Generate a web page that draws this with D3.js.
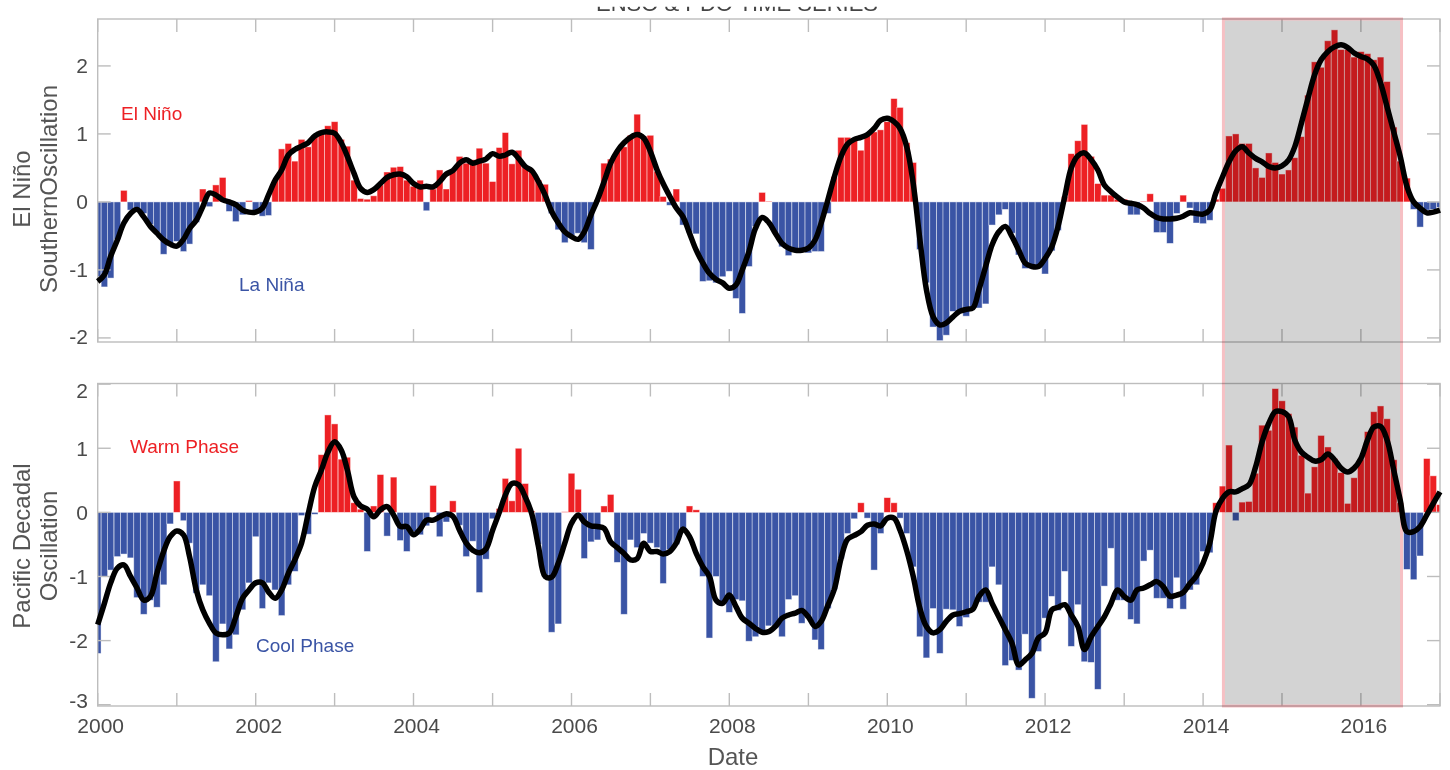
<!DOCTYPE html>
<html><head><meta charset="utf-8">
<script src="https://cdn.jsdelivr.net/npm/d3@7"></script>
<style>
html,body{margin:0;padding:0;background:#fff;}
svg{display:block;font-family:"Liberation Sans", Arial, Helvetica, sans-serif;}
</style></head><body>
<svg id="chart" width="1450" height="770"></svg>
<script>
// ---------------- data ----------------
const firstMonth = "2000-01-01";           // month of the first value; one value per month
const xDomain = ["2000-01-01", "2017-01-01"];
const highlightPeriod = ["2014-04-05", "2016-07-07"];
const titleText = "ENSO & PDO TIME SERIES";

const ensoValues = [
 -1.10,-1.25,-1.12,-0.55,0.17,-0.12,-0.14,-0.17,-0.33,-0.45,
 -0.77,-0.62,-0.58,-0.73,-0.62,-0.30,0.19,-0.07,0.25,0.36,
 -0.14,-0.29,-0.19,0.02,-0.17,-0.21,-0.20,0.32,0.78,0.86,
 0.60,0.92,0.81,0.98,1.05,1.12,1.18,0.92,0.82,0.32,
 0.05,0.04,0.09,0.25,0.44,0.51,0.52,0.32,0.23,0.32,
 -0.13,0.19,0.47,0.19,0.47,0.67,0.57,0.62,0.79,0.57,
 0.30,0.80,1.02,0.56,0.76,0.52,0.47,0.32,0.26,-0.17,
 -0.41,-0.60,-0.49,-0.46,-0.60,-0.70,0.03,0.57,0.63,0.75,
 0.81,0.98,1.29,0.97,0.98,0.45,0.08,-0.05,0.19,-0.34,
 -0.45,-0.47,-1.17,-1.16,-1.19,-1.10,-1.02,-1.42,-1.64,-0.95,
 -0.36,0.14,0.01,-0.46,-0.66,-0.79,-0.70,-0.71,-0.75,-0.73,
 -0.73,-0.17,0.37,0.95,0.95,0.94,0.76,0.99,1.03,1.06,
 1.18,1.52,1.39,0.87,0.58,-0.70,-1.19,-1.84,-2.04,-1.96,
 -1.61,-1.63,-1.68,-1.56,-1.56,-1.50,-0.34,-0.19,-0.11,-0.46,
 -0.78,-0.98,-0.98,-0.95,-1.06,-0.72,-0.42,0.08,0.71,0.90,
 1.14,0.67,0.27,0.10,0.10,0.04,0.04,-0.19,-0.19,0.01,
 0.12,-0.45,-0.45,-0.61,-0.17,0.10,-0.09,-0.31,-0.32,-0.27,
 0.04,0.20,0.97,1.00,0.86,0.86,0.50,0.36,0.72,0.58,
 0.41,0.47,0.65,0.96,1.57,2.06,1.98,2.37,2.53,2.24,
 2.24,2.13,2.21,2.18,2.09,2.13,1.77,1.10,0.60,0.35,
 -0.11,-0.37,-0.12,-0.11,-0.08
];
const ensoSmooth = [
 -1.17,-1.07,-0.80,-0.56,-0.31,-0.17,-0.11,-0.22,-0.36,-0.46,
 -0.56,-0.62,-0.65,-0.55,-0.39,-0.27,-0.07,0.13,0.10,0.03,
 0.00,-0.04,-0.12,-0.15,-0.15,-0.09,0.10,0.32,0.47,0.69,
 0.77,0.82,0.87,0.97,1.02,1.03,1.01,0.87,0.67,0.42,
 0.20,0.14,0.18,0.27,0.36,0.40,0.41,0.37,0.27,0.22,
 0.23,0.22,0.30,0.41,0.46,0.57,0.62,0.57,0.60,0.63,
 0.71,0.67,0.69,0.73,0.64,0.52,0.46,0.30,0.10,-0.14,
 -0.31,-0.44,-0.51,-0.55,-0.44,-0.19,0.03,0.30,0.57,0.75,
 0.87,0.95,0.99,0.94,0.74,0.47,0.27,0.08,-0.09,-0.22,
 -0.46,-0.71,-0.90,-1.05,-1.14,-1.19,-1.27,-1.22,-1.00,-0.73,
 -0.39,-0.23,-0.30,-0.46,-0.61,-0.68,-0.71,-0.71,-0.68,-0.56,
 -0.31,0.03,0.37,0.67,0.85,0.92,0.95,0.99,1.08,1.20,
 1.23,1.18,1.08,0.81,0.27,-0.56,-1.29,-1.69,-1.81,-1.78,
 -1.69,-1.61,-1.58,-1.56,-1.29,-0.95,-0.63,-0.44,-0.36,-0.51,
 -0.71,-0.90,-0.95,-0.95,-0.83,-0.66,-0.36,0.08,0.50,0.68,
 0.72,0.62,0.47,0.25,0.15,0.07,0.00,-0.02,-0.04,-0.09,
 -0.17,-0.23,-0.25,-0.25,-0.24,-0.21,-0.16,-0.17,-0.18,-0.12,
 0.13,0.37,0.59,0.75,0.81,0.72,0.64,0.59,0.52,0.50,
 0.53,0.62,0.81,1.16,1.52,1.87,2.09,2.21,2.28,2.31,
 2.27,2.19,2.14,2.10,2.01,1.75,1.40,1.03,0.67,0.23,
 0.00,-0.09,-0.16,-0.15,-0.12
];
const pdoValues = [
 -2.20,-1.00,-0.90,-0.69,-0.65,-0.71,-1.33,-1.59,-1.37,-1.48,
 -1.13,-0.18,0.49,-0.13,-0.48,-1.26,-1.13,-1.30,-2.33,-1.74,
 -2.13,-1.91,-1.52,-1.10,-0.38,-1.50,-1.10,-1.21,-1.61,-1.13,
 -0.92,-0.05,-0.34,-0.03,0.90,1.52,1.38,0.83,0.86,0.15,
 0.05,-0.61,0.10,0.59,-0.37,0.55,-0.44,-0.61,-0.30,-0.35,
 -0.21,0.42,-0.38,-0.15,0.18,-0.20,-0.69,-0.45,-1.25,-0.73,
 -0.10,0.06,0.53,0.18,1.00,0.45,0.02,-0.50,-1.00,-1.87,
 -1.74,0.01,0.61,0.36,-0.72,-0.46,-0.43,0.10,0.28,-0.78,
 -1.59,-0.43,-0.55,-0.33,-0.48,-0.55,-1.11,-0.58,-0.50,-0.30,
 0.10,0.04,-1.00,-1.96,-1.00,-1.42,-1.56,-1.36,-1.38,-2.01,
 -1.94,-1.88,-1.77,-1.80,-1.94,-1.36,-1.30,-1.73,-1.65,-1.99,
 -2.14,-1.50,-1.20,-0.72,-0.33,-0.10,0.15,-0.09,-0.90,-0.33,
 0.23,0.15,-0.09,-0.33,-0.85,-1.94,-2.27,-1.50,-2.20,-1.51,
 -1.52,-1.78,-1.64,-1.52,-1.40,-1.40,-0.85,-1.13,-2.39,-2.31,
 -2.46,-1.90,-2.90,-2.17,-1.65,-1.31,-1.53,-0.92,-2.09,-1.44,
 -2.33,-2.34,-2.76,-1.15,-0.56,-1.37,-1.37,-1.67,-1.74,-0.76,
 -0.59,-1.34,-1.34,-1.50,-1.02,-1.51,-1.21,-1.13,-0.61,-0.63,
 0.15,0.41,1.05,-0.13,0.16,0.17,0.61,1.36,1.28,1.93,
 1.74,1.54,1.33,0.89,0.30,0.71,1.20,1.02,0.84,0.62,
 0.14,0.54,0.83,1.26,1.57,1.66,1.46,0.82,0.15,-0.89,
 -1.05,-0.68,0.84,0.57,0.12
];
const pdoSmooth = [
 -1.75,-1.42,-1.10,-0.87,-0.82,-1.00,-1.18,-1.37,-1.31,-0.95,
 -0.61,-0.38,-0.29,-0.35,-0.69,-1.21,-1.52,-1.73,-1.88,-1.91,
 -1.88,-1.63,-1.34,-1.21,-1.10,-1.10,-1.24,-1.34,-1.21,-0.95,
 -0.74,-0.48,-0.02,0.40,0.66,0.94,1.10,0.97,0.66,0.24,
 0.10,0.05,-0.07,0.04,0.09,-0.04,-0.22,-0.22,-0.35,-0.26,
 -0.12,-0.12,-0.07,-0.02,-0.06,-0.28,-0.48,-0.59,-0.63,-0.57,
 -0.28,0.00,0.27,0.45,0.43,0.24,-0.02,-0.53,-1.00,-1.01,
 -0.79,-0.48,-0.17,-0.04,-0.15,-0.21,-0.22,-0.25,-0.46,-0.55,
 -0.64,-0.74,-0.72,-0.48,-0.61,-0.61,-0.65,-0.61,-0.48,-0.26,
 -0.38,-0.64,-0.85,-1.00,-1.37,-1.42,-1.29,-1.47,-1.65,-1.73,
 -1.81,-1.87,-1.86,-1.78,-1.65,-1.60,-1.57,-1.53,-1.63,-1.78,
 -1.70,-1.45,-1.20,-0.72,-0.42,-0.36,-0.30,-0.20,-0.18,-0.21,
 -0.09,-0.09,-0.28,-0.60,-1.00,-1.50,-1.78,-1.88,-1.83,-1.70,
 -1.60,-1.58,-1.55,-1.51,-1.31,-1.21,-1.42,-1.63,-1.83,-2.04,
 -2.38,-2.30,-2.20,-1.96,-1.88,-1.52,-1.48,-1.44,-1.60,-1.78,
 -2.14,-1.94,-1.78,-1.63,-1.42,-1.21,-1.31,-1.37,-1.21,-1.18,
 -1.13,-1.08,-1.16,-1.31,-1.29,-1.25,-1.11,-0.99,-0.79,-0.48,
 0.01,0.22,0.32,0.32,0.37,0.43,0.71,1.10,1.39,1.57,
 1.57,1.49,1.13,0.94,0.86,0.80,0.82,0.91,0.82,0.69,
 0.63,0.69,0.84,1.13,1.33,1.34,1.13,0.66,0.19,-0.30,
 -0.30,-0.22,-0.04,0.14,0.32
];

const ensoTicks = [-2, -1, 0, 1, 2];
const pdoTicks = [-3, -2, -1, 0, 1, 2];
const ensoDomain = [-2.06, 2.69];
const pdoDomain = [-3.02, 2.01];
const yearTicks = d3.range(2000, 2018);
const xTickLabels = ["2000","2002","2004","2006","2008","2010","2012","2014","2016"];
const ensoAxisLabel = ["El Niño", "SouthernOscillation"];
const pdoAxisLabel = ["Pacific Decadal", "Oscillation"];
const ensoNotes = [{text:"El Niño", sign:1}, {text:"La Niña", sign:-1}];
const pdoNotes = [{text:"Warm Phase", sign:1}, {text:"Cool Phase", sign:-1}];
const xAxisTitle = "Date";

// ---------------- style / layout ----------------
const RED = "#ed2024", BLUE = "#3a54a5";
const AXIS = "#bdbdbd", TEXT = "#4a4a4a";
const L = 97.7, R = 1440, TICK = 13;
const svg = d3.select("#chart");
svg.append("rect").attr("width",1450).attr("height",770).attr("fill","#fff");

const parse = d3.utcParse("%Y-%m-%d");
const t0 = parse(firstMonth);
const monthDate = i => d3.utcMonth.offset(t0, i);
const x = d3.scaleUtc().domain(xDomain.map(parse)).range([L, R]);

const panels = [
  {key:"enso", values:ensoValues, smooth:ensoSmooth, domain:ensoDomain, ticks:ensoTicks,
   top:19, bottom:342, label:ensoAxisLabel, labelY:189, notes:ensoNotes,
   notePos:[[121,120],[239,291]], xLabels:false},
  {key:"pdo", values:pdoValues, smooth:pdoSmooth, domain:pdoDomain, ticks:pdoTicks,
   top:383.5, bottom:706, label:pdoAxisLabel, labelY:546, notes:pdoNotes,
   notePos:[[130,452.5],[256,652]], xLabels:true}
];

const defs = svg.append("defs");
const barLayer = svg.append("g");
const axisLayer = svg.append("g");
const regionLayer = svg.append("g");
const lineLayer = svg.append("g");
const textLayer = svg.append("g");

panels.forEach(p => {
  p.y = d3.scaleLinear().domain(p.domain).range([p.bottom, p.top]);
  defs.append("clipPath").attr("id","clip-"+p.key)
    .append("rect").attr("x",L).attr("y",p.top).attr("width",R-L).attr("height",p.bottom-p.top);

  // bars
  const g = barLayer.append("g").attr("clip-path",`url(#clip-${p.key})`);
  const y0 = p.y(0);
  g.selectAll("rect").data(p.values).join("rect")
    .attr("x",(d,i)=>{ const c=x(monthDate(i)); const w=(x(monthDate(i+1))-x(monthDate(i-1)))/2; return c-w/2; })
    .attr("width",(d,i)=>(x(monthDate(i+1))-x(monthDate(i-1)))/2)
    .attr("y",d=> d>=0 ? p.y(d) : y0)
    .attr("height",d=>Math.abs(p.y(d)-y0))
    .attr("fill",d=> d>=0 ? RED : BLUE)
    .attr("stroke","rgba(255,255,255,0.55)")
    .attr("stroke-width",0.8);

  // axes box and ticks
  const a = axisLayer.append("g").attr("stroke",AXIS).attr("stroke-width",1.4).attr("fill","none");
  a.append("rect").attr("x",L).attr("y",p.top).attr("width",R-L).attr("height",p.bottom-p.top);
  yearTicks.forEach(yr => {
    const xx = x(parse(yr+"-01-01"));
    a.append("line").attr("x1",xx).attr("x2",xx).attr("y1",p.top).attr("y2",p.top+TICK);
    a.append("line").attr("x1",xx).attr("x2",xx).attr("y1",p.bottom).attr("y2",p.bottom-TICK);
  });
  p.ticks.forEach(v => {
    const yy = p.y(v);
    a.append("line").attr("x1",L).attr("x2",L+TICK).attr("y1",yy).attr("y2",yy);
    a.append("line").attr("x1",R).attr("x2",R-TICK).attr("y1",yy).attr("y2",yy);
  });

  // y tick labels
  p.ticks.forEach(v => {
    const yy = Math.max(p.top+6.5, Math.min(p.bottom-6, p.y(v)));
    textLayer.append("text").attr("x",88).attr("y",yy).attr("dy","0.36em")
      .attr("text-anchor","end").attr("font-size",21).attr("fill",TEXT).text(v);
  });

  // x tick labels
  if (p.xLabels) {
    xTickLabels.forEach(lbl => {
      textLayer.append("text").attr("x",x(parse(lbl+"-01-01"))+3).attr("y",733)
        .attr("text-anchor","middle").attr("font-size",21).attr("fill",TEXT).text(lbl);
    });
  }

  // y axis title (two lines)
  [29.5, 57.3].forEach((bx,k) => {
    textLayer.append("text").attr("transform",`translate(${bx},${p.labelY}) rotate(-90)`)
      .attr("text-anchor","middle").attr("font-size",24).attr("fill","#555").text(p.label[k]);
  });

  // notes
  p.notes.forEach((n,k) => {
    textLayer.append("text").attr("x",p.notePos[k][0]).attr("y",p.notePos[k][1])
      .attr("font-size",19).attr("fill", n.sign>0 ? RED : BLUE).text(n.text);
  });

  // smoothed line
  const line = d3.line().x((d,i)=>x(monthDate(i))).y(d=>p.y(d)).curve(d3.curveCatmullRom.alpha(0.5));
  lineLayer.append("path").datum(p.smooth).attr("d",line)
    .attr("fill","none").attr("stroke","#000").attr("stroke-width",5.5)
    .attr("stroke-linejoin","round");
});

// highlighted period
const hx0 = x(parse(highlightPeriod[0])), hx1 = x(parse(highlightPeriod[1]));
regionLayer.append("rect")
  .attr("x",hx0).attr("y",panels[0].top).attr("width",hx1-hx0).attr("height",panels[1].bottom-panels[0].top)
  .attr("fill","#d3d3d3").attr("stroke","#f6c0c4").attr("stroke-width",3)
  .style("mix-blend-mode","multiply");

// x axis title
textLayer.append("text").attr("x",733).attr("y",765).attr("text-anchor","middle")
  .attr("font-size",24).attr("fill","#555").text(xAxisTitle);

// title (only its lower edge shows, as in the reference)
defs.append("clipPath").attr("id","clip-title").append("rect").attr("x",0).attr("y",6.7).attr("width",1450).attr("height",14);
textLayer.append("text").attr("clip-path","url(#clip-title)").attr("x",737).attr("y",10.7)
  .attr("text-anchor","middle").attr("font-size",22).attr("fill","#444").text(titleText);
</script>
</body></html>
